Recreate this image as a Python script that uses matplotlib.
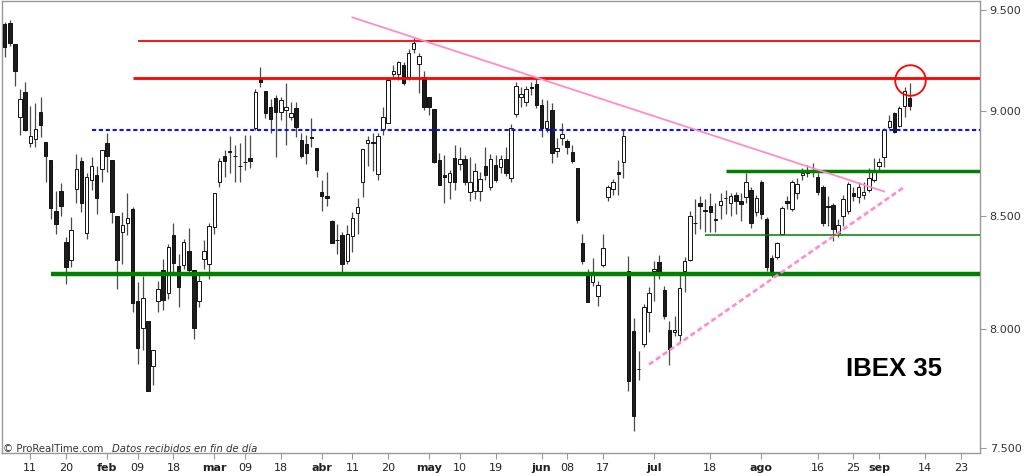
import matplotlib
matplotlib.use("Agg")
import numpy as np
import matplotlib.pyplot as plt
from matplotlib.ticker import NullLocator, NullFormatter

# IBEX 35 daily candles
opens = [9430, 9435, 9329, 8970, 9091, 8845, 8864, 8993, 8850, 8764,
         8523, 8619, 8382, 8301, 8629, 8759, 8422, 8671, 8694, 8722,
         8845, 8764, 8504, 8427, 8468, 8532, 8120, 8003, 8033, 7842,
         8120, 8257, 8156, 8413, 8274, 8279, 8341, 8257, 8120, 8306,
         8283, 8450, 8657, 8783, 8807, 8783, 8736, 8755, 8774, 8917,
         9155, 9096, 9018, 9062, 8993, 9003, 8969, 9013, 8859, 8840,
         8874, 8821, 8615, 8592, 8477, 8391, 8413, 8297, 8409, 8514,
         8657, 8845, 8850, 8698, 8912, 8941, 9179, 9179, 9224, 9165,
         9304, 9229, 9165, 9067, 9008, 8764, 8694, 8657, 8774, 8745,
         8769, 8615, 8619, 8619, 8736, 8638, 8741, 8731, 8769, 8680,
         8984, 9067, 9042, 9116, 9130, 9028, 8917, 9003, 8807, 8869,
         8855, 8802, 8727, 8377, 8230, 8204, 8142, 8279, 8588, 8629,
         8708, 8755, 8252, 7990, 7826, 7935, 8073, 8252, 8292, 8169,
         7995, 7986, 7973, 8252, 8301, 8468, 8560, 8528, 8546, 8486,
         8551, 8583, 8560, 8601, 8569, 8588, 8624, 8518, 8661, 8486,
         8310, 8315, 8418, 8569, 8532, 8606, 8694, 8703, 8713, 8685,
         8638, 8546, 8551, 8422, 8504, 8523, 8606, 8588, 8601, 8624,
         8671, 8736, 8778, 8922, 8988, 8926, 9023, 9062]
closes = [9314, 9334, 9194, 9057, 8907, 8878, 8912, 8931, 8783, 8537,
          8463, 8546, 8270, 8436, 8722, 8564, 8685, 8736, 8583, 8812,
          8783, 8518, 8301, 8459, 8491, 8112, 7918, 8133, 7735, 7910,
          8173, 8125, 8359, 8288, 8182, 8382, 8257, 8003, 8208, 8341,
          8454, 8606, 8759, 8759, 8802, 8781, 8736, 8755, 8759, 9091,
          9140, 8988, 8960, 8993, 9052, 9018, 8988, 8922, 8783, 8797,
          8869, 8717, 8592, 8583, 8377, 8391, 8283, 8418, 8491, 8541,
          8816, 8859, 8845, 8878, 8969, 9150, 9194, 9239, 9135, 9284,
          9334, 9269, 9018, 9018, 8755, 8647, 8685, 8703, 8657, 8769,
          8657, 8657, 8713, 8675, 8694, 8769, 8671, 8769, 8703, 8917,
          9121, 9081, 9106, 9111, 9028, 8917, 8950, 8797, 8821, 8888,
          8826, 8759, 8482, 8297, 8116, 8239, 8191, 8355, 8638, 8657,
          8698, 8878, 7776, 7631, 7826, 8094, 8156, 8261, 8248, 8055,
          7914, 7995, 8178, 8297, 8500, 8468, 8546, 8523, 8518, 8482,
          8569, 8583, 8592, 8569, 8555, 8657, 8468, 8583, 8509, 8270,
          8252, 8377, 8537, 8560, 8657, 8652, 8703, 8708, 8713, 8615,
          8472, 8541, 8441, 8459, 8578, 8652, 8592, 8634, 8615, 8680,
          8717, 8755, 8907, 8950, 8898, 9013, 9096, 9023]
highs = [9440, 9450, 9329, 9106, 9140, 9022, 9037, 9067, 8850, 8764,
         8619, 8653, 8404, 8495, 8793, 8778, 8703, 8778, 8736, 8812,
         8893, 8764, 8504, 8518, 8610, 8541, 8204, 8230, 8033, 7910,
         8208, 8306, 8373, 8472, 8328, 8395, 8445, 8257, 8248, 8391,
         8472, 8610, 8773, 8812, 8878, 8836, 8845, 8883, 8883, 9106,
         9214, 9096, 9057, 9076, 9067, 9135, 9042, 9042, 8893, 8883,
         8965, 8821, 8671, 8708, 8482, 8463, 8427, 8459, 8518, 8583,
         8816, 8878, 8893, 8893, 9018, 9160, 9224, 9244, 9239, 9304,
         9359, 9284, 9194, 9067, 9008, 8797, 8788, 8717, 8836, 8826,
         8788, 8778, 8750, 8708, 8826, 8793, 8788, 8788, 8826, 8936,
         9140, 9116, 9121, 9140, 9155, 9057, 9052, 9037, 8869, 8941,
         8864, 8836, 8727, 8418, 8261, 8310, 8208, 8418, 8647, 8675,
         8764, 8907, 8319, 8046, 7906, 8107, 8182, 8297, 8324, 8186,
         8033, 8055, 8239, 8315, 8523, 8578, 8592, 8578, 8610, 8564,
         8610, 8624, 8610, 8615, 8610, 8703, 8638, 8601, 8671, 8495,
         8324, 8382, 8546, 8592, 8671, 8680, 8727, 8741, 8750, 8703,
         8647, 8592, 8564, 8486, 8601, 8661, 8638, 8657, 8661, 8727,
         8774, 8774, 8917, 8979, 8993, 9023, 9116, 9135]
lows = [9264, 9319, 9121, 8883, 8902, 8826, 8826, 8874, 8657, 8486,
        8418, 8500, 8195, 8270, 8560, 8518, 8395, 8624, 8509, 8661,
        8708, 8468, 8173, 8283, 8413, 8073, 7851, 7910, 7735, 7759,
        8073, 8081, 8129, 8248, 8094, 8261, 8239, 7957, 8094, 8261,
        8217, 8418, 8634, 8685, 8703, 8661, 8657, 8717, 8727, 8907,
        9116, 8965, 8893, 8778, 8955, 8836, 8955, 8874, 8774, 8745,
        8826, 8685, 8523, 8546, 8377, 8328, 8248, 8283, 8337, 8418,
        8588, 8736, 8713, 8671, 8883, 8941, 9165, 9150, 9126, 9150,
        9284, 9086, 9003, 8979, 8750, 8647, 8560, 8578, 8624, 8717,
        8643, 8573, 8578, 8573, 8671, 8624, 8657, 8703, 8689, 8661,
        8969, 9018, 9023, 9076, 9013, 8874, 8898, 8750, 8778, 8836,
        8793, 8750, 8472, 8283, 8116, 8186, 8099, 8270, 8569, 8601,
        8601, 8680, 7735, 7571, 7780, 7922, 7986, 8120, 8217, 8042,
        7847, 7969, 7948, 8160, 8297, 8418, 8441, 8427, 8427, 8427,
        8486, 8509, 8500, 8509, 8477, 8564, 8445, 8500, 8486, 8252,
        8226, 8306, 8413, 8532, 8523, 8578, 8671, 8685, 8685, 8601,
        8454, 8454, 8386, 8404, 8454, 8509, 8569, 8564, 8578, 8615,
        8657, 8717, 8731, 8912, 8893, 8922, 8969, 9003]

# x axis labels (trading-day index)
tick_pos = [5, 12, 20, 26, 33, 41, 47, 54, 62, 68, 75, 83, 89, 96, 105,
            110, 117, 127, 138, 148, 159, 166, 171, 180, 187]
tick_labels = ["11", "20", "feb", "09", "18", "mar", "09", "18", "abr", "11",
               "20", "may", "10", "19", "jun", "08", "17", "jul", "18", "ago",
               "16", "25", "sep", "14", "23"]
months = ["feb", "mar", "abr", "may", "jun", "jul", "ago", "sep"]

price_ticks = [7500, 8000, 8500, 9000, 9500]
price_labels = ["7.500", "8.000", "8.500", "9.000", "9.500"]

# drawn levels: (price, start index)
red_levels = [(9344, 26), (9160, 25)]
blue_level = (8907, 17)
green_main = (8239, 9)
green_upper = (8713, 141)
green_lower = (8413, 137)
down_trend = ([68, 172], [9464, 8615])
up_trend = ([126, 176], [7847, 8637])
circle_pt = (177, 9147)

o = np.array(opens)
c = np.array(closes)
h = np.array(highs)
l = np.array(lows)
x = np.arange(len(o))

fig = plt.figure(figsize=(10.24, 4.76), dpi=100)
fig.patch.set_facecolor("white")
ax = fig.add_axes([1.5 / 1024, 23 / 476, 978.5 / 1024, 452 / 476])
ax.set_yscale("log")
xmax = 190.75
ax.set_xlim(-0.63, xmax)
ax.set_ylim(7481, 9548)

# candles
ax.vlines(x, l, h, color="#4a4a4a", linewidth=0.9, zorder=2)
up = c >= o
bottoms = np.minimum(o, c)
heights = np.abs(c - o)
ax.bar(x[up], heights[up], bottom=bottoms[up], width=0.68,
       color="white", edgecolor="#111111", linewidth=0.7, zorder=3)
ax.bar(x[~up], heights[~up], bottom=bottoms[~up], width=0.68,
       color="#1c1c1c", edgecolor="#111111", linewidth=0.7, zorder=3)

# horizontal levels
ax.hlines(red_levels[0][0], red_levels[0][1], xmax, color="#ff0000", linewidth=1.3, zorder=4)
ax.hlines(red_levels[1][0], red_levels[1][1], xmax, color="#ff0000", linewidth=2.0, zorder=4)
ax.hlines(blue_level[0], blue_level[1], xmax, color="#1010ff", linewidth=1.5,
          linestyles=(0, (2, 1.3)), zorder=4)
ax.hlines(green_main[0], green_main[1], xmax, color="#008000", linewidth=3.2, zorder=4)
ax.hlines(green_upper[0], green_upper[1], xmax, color="#008000", linewidth=2.5, zorder=4)
ax.hlines(green_lower[0], green_lower[1], xmax, color="#008000", linewidth=1.1, zorder=4)

# trend lines
ax.plot(down_trend[0], down_trend[1], color="#ff8cc8", linewidth=1.3, zorder=4)
ax.plot(up_trend[0], up_trend[1], color="#ff8cc8", linewidth=1.9,
        linestyle=(0, (2, 1.2)), zorder=4)

# red circle
ax.plot([circle_pt[0]], [circle_pt[1]], marker="o", markersize=22,
        markerfacecolor="none", markeredgecolor="#ff0000", markeredgewidth=1.3, zorder=5)

ax.text(894 / 978.5 - 1.5 / 978.5, 1 - (369.5 - 1) / 452, "IBEX 35", transform=ax.transAxes,
        ha="center", va="center", fontsize=18.5, fontweight="bold",
        family="Liberation Sans", color="black")

# axes styling
for side in ["top", "left", "right", "bottom"]:
    ax.spines[side].set_color("#999999")
    ax.spines[side].set_linewidth(1.0)
ax.yaxis.tick_right()
ax.set_yticks(price_ticks)
ax.set_yticklabels(price_labels)
ax.yaxis.set_minor_locator(NullLocator())
ax.yaxis.set_minor_formatter(NullFormatter())
ax.set_xticks(tick_pos)
ax.set_xticklabels(tick_labels)
for lab in ax.get_xticklabels():
    if lab.get_text() in months:
        lab.set_fontweight("bold")
ax.tick_params(axis="y", direction="out", length=4, color="#999999",
               labelsize=8, labelcolor="#333333", pad=3)
ax.tick_params(axis="x", direction="out", length=4, color="#999999",
               labelsize=8, labelcolor="#222222", pad=3)

fig.text(3 / 1024, 1 - 449 / 476, "\u00a9 ProRealTime.com", fontsize=7.3,
         color="#333333", va="center", ha="left")
fig.text(112.5 / 1024, 1 - 449 / 476, "Datos recibidos en fin de d\u00eda", fontsize=7.3,
         color="#333333", va="center", ha="left", style="italic")

fig.savefig("out.png", dpi=100)
